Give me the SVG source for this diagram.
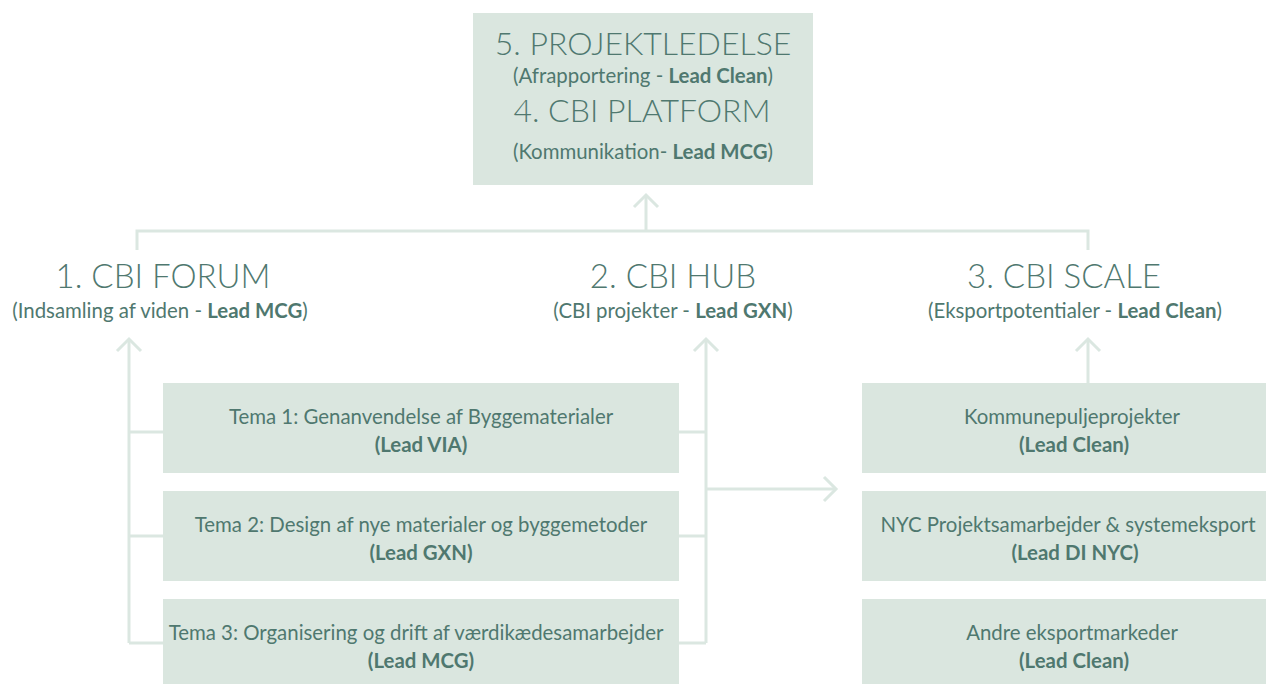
<svg xmlns="http://www.w3.org/2000/svg" width="1266" height="684" viewBox="0 0 1266 684">
<defs>
<style>
.box{fill:#dae6df}
.t{font-family:Lato,"Open Sans",sans-serif;fill:#4f786f;text-anchor:middle}
.h{font-size:33px;font-weight:300}
.h2{font-size:32px;font-weight:300}
.s{font-size:20.4px}
.b{font-size:20.4px}
.bold{font-weight:bold}
.ln{fill:none;stroke:#dbe7e1;stroke-width:3}
</style>
</defs>
<rect width="1266" height="684" fill="#ffffff"/>
<g id="connectors">
<polyline class="ln" points="137,250 137,231 1088,231 1088,250"/>
<line class="ln" x1="646" y1="231" x2="646" y2="195"/>
<path class="ln" d="M634 207 L646 195 L658 207"/>
<line class="ln" x1="129" y1="643" x2="129" y2="339"/>
<path class="ln" d="M117 351 L129 339 L141 351"/>
<line class="ln" x1="129" y1="432" x2="163" y2="432"/>
<line class="ln" x1="129" y1="536" x2="163" y2="536"/>
<line class="ln" x1="129" y1="643" x2="163" y2="643"/>
<line class="ln" x1="706" y1="643" x2="706" y2="339"/>
<path class="ln" d="M694 351 L706 339 L718 351"/>
<line class="ln" x1="679" y1="432" x2="706" y2="432"/>
<line class="ln" x1="679" y1="536" x2="706" y2="536"/>
<line class="ln" x1="679" y1="643" x2="706" y2="643"/>
<line class="ln" x1="706" y1="489" x2="836" y2="489"/>
<path class="ln" d="M824 477 L836 489 L824 501"/>
<line class="ln" x1="1088" y1="383" x2="1088" y2="339"/>
<path class="ln" d="M1076 351 L1088 339 L1100 351"/>
</g>
<g id="projektledelse">
<rect class="box" x="473" y="13" width="340" height="172"/>
<text class="t h2" x="643" y="55">5. PROJEKTLEDELSE</text>
<text class="t s" x="643" y="83">(Afrapportering - <tspan class="bold">Lead Clean</tspan>)</text>
<text class="t h2" x="642" y="122">4. CBI PLATFORM</text>
<text class="t s" x="643" y="159">(Kommunikation- <tspan class="bold">Lead MCG</tspan>)</text>
</g>
<g id="forum">
<text class="t h" x="163" y="288">1. CBI FORUM</text>
<text class="t s" x="160" y="318">(Indsamling af viden - <tspan class="bold">Lead MCG</tspan>)</text>
</g>
<g id="hub">
<text class="t h" x="673" y="288">2. CBI HUB</text>
<text class="t s" x="673" y="318">(CBI projekter - <tspan class="bold">Lead GXN</tspan>)</text>
</g>
<g id="scale">
<text class="t h" x="1064" y="288">3. CBI SCALE</text>
<text class="t s" x="1075" y="318">(Eksportpotentialer - <tspan class="bold">Lead Clean</tspan>)</text>
</g>
<g id="tema1">
<rect class="box" x="163" y="383" width="516" height="90"/>
<text class="t b" x="421" y="424">Tema 1: Genanvendelse af Byggematerialer</text>
<text class="t b bold" x="421" y="452">(Lead VIA)</text>
</g>
<g id="tema2">
<rect class="box" x="163" y="491" width="516" height="90"/>
<text class="t b" x="421" y="532">Tema 2: Design af nye materialer og byggemetoder</text>
<text class="t b bold" x="421" y="560">(Lead GXN)</text>
</g>
<g id="tema3">
<rect class="box" x="163" y="599" width="516" height="85"/>
<text class="t b" x="416" y="640">Tema 3: Organisering og drift af værdikædesamarbejder</text>
<text class="t b bold" x="421" y="668">(Lead MCG)</text>
</g>
<g id="kommune">
<rect class="box" x="862" y="383" width="404" height="90"/>
<text class="t b" x="1072" y="424">Kommunepuljeprojekter</text>
<text class="t b bold" x="1074" y="452">(Lead Clean)</text>
</g>
<g id="nyc">
<rect class="box" x="862" y="491" width="404" height="90"/>
<text class="t b" x="1068" y="532">NYC Projektsamarbejder &amp; systemeksport</text>
<text class="t b bold" x="1075" y="560">(Lead DI NYC)</text>
</g>
<g id="andre">
<rect class="box" x="862" y="599" width="404" height="85"/>
<text class="t b" x="1072" y="640">Andre eksportmarkeder</text>
<text class="t b bold" x="1074" y="668">(Lead Clean)</text>
</g>
</svg>
